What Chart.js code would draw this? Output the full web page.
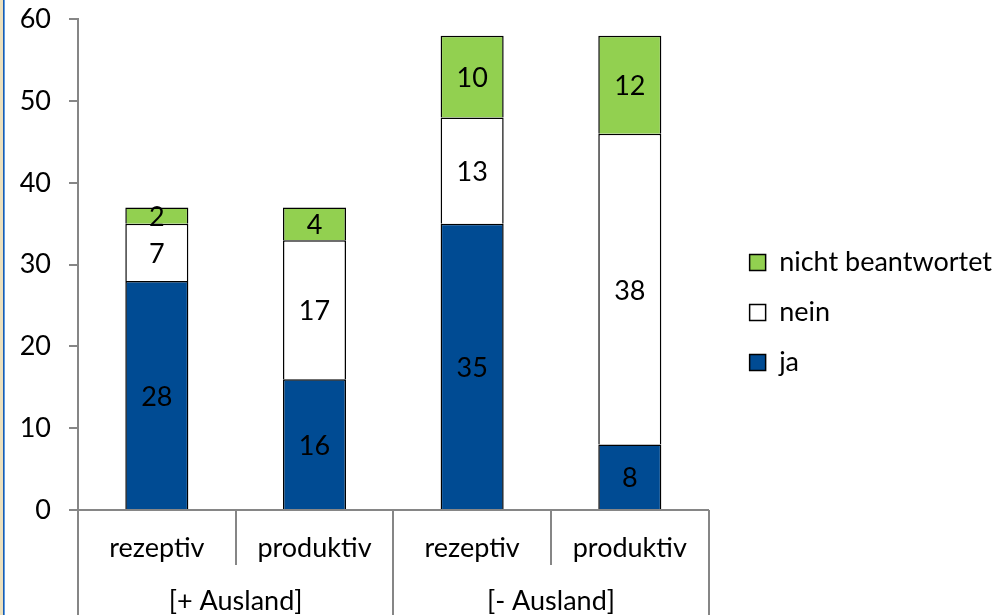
<!DOCTYPE html>
<html>
<head>
<meta charset="utf-8">
<script src="https://cdn.jsdelivr.net/npm/chart.js@4/dist/chart.umd.min.js"></script>
<style>
  html, body { margin: 0; padding: 0; background: #fff; }
  #wrap { position: relative; width: 1008px; height: 615px; overflow: hidden; }
  #edge { position: absolute; left: 0; top: 0; width: 5px; height: 615px;
          background: linear-gradient(to right, #ece0bd 0px, #ece0bd 3px, #1b5bb0 3px, #1b5bb0 4px, #5b9be0 4px, #5b9be0 5px); }
  canvas { position: absolute; left: 0; top: 0; }
</style>
</head>
<body>
<div id="wrap">
  <canvas id="c" width="1008" height="615"></canvas>
  <div id="edge"></div>
</div>
<script>
const categories = ['rezeptiv', 'produktiv', 'rezeptiv', 'produktiv'];
const groups = ['[+ Ausland]', '[- Ausland]'];
const ja = [28, 16, 35, 8];
const nein = [7, 17, 13, 38];
const nichtBeantwortet = [2, 4, 10, 12];
const yTicks = [0, 10, 20, 30, 40, 50, 60];

const FONT = 'Lato, "Liberation Sans", sans-serif';
const FSIZE = 27;
const AXIS = '#868686';

// value labels centred in each stacked segment
const segmentLabels = {
  id: 'segmentLabels',
  afterDatasetsDraw(chart) {
    const ctx = chart.ctx;
    ctx.save();
    ctx.font = FSIZE + 'px ' + FONT;
    ctx.fillStyle = '#000';
    ctx.textAlign = 'center';
    ctx.textBaseline = 'middle';
    chart.data.datasets.forEach((ds, di) => {
      const meta = chart.getDatasetMeta(di);
      meta.data.forEach((el, i) => {
        const y = (el.y + el.base) / 2;
        ctx.fillText(String(ds.data[i]), el.x, y + 2);
      });
    });
    ctx.restore();
  }
};

// two-level category axis with separator lines
const groupedAxis = {
  id: 'groupedAxis',
  afterDraw(chart) {
    const ctx = chart.ctx;
    const xs = chart.scales.x;
    const top = chart.chartArea.bottom;
    const bottom = chart.height;
    const n = categories.length;
    const step = xs.width / n;
    const perGroup = n / groups.length;
    ctx.save();
    ctx.strokeStyle = AXIS;
    ctx.lineWidth = 2;
    for (let i = 0; i <= n; i++) {
      const x = Math.round(xs.left + i * step);
      const long = i % perGroup === 0;
      ctx.beginPath();
      ctx.moveTo(x, top);
      ctx.lineTo(x, long ? bottom : top + 55);
      ctx.stroke();
    }
    ctx.font = FSIZE + 'px ' + FONT;
    ctx.fillStyle = '#000';
    ctx.textAlign = 'center';
    ctx.textBaseline = 'middle';
    categories.forEach((c, i) => {
      ctx.fillText(c, xs.getPixelForValue(i), top + 38);
    });
    groups.forEach((g, gi) => {
      const cx = xs.left + (gi * perGroup + perGroup / 2) * step;
      ctx.fillText(g, cx, top + 91);
    });
    ctx.restore();
  }
};

// nudge the legend block slightly downward
const legendOffset = {
  id: 'legendOffset',
  afterLayout(chart) {
    if (chart.legend) {
      chart.legend.top += 5;
      chart.legend.bottom += 5;
    }
  }
};

new Chart(document.getElementById('c'), {
  type: 'bar',
  data: {
    labels: categories,
    datasets: [
      { label: 'ja', data: ja, backgroundColor: '#004b93', borderColor: '#000', borderWidth: 1.5 },
      { label: 'nein', data: nein, backgroundColor: '#ffffff', borderColor: '#000', borderWidth: 1.5 },
      { label: 'nicht beantwortet', data: nichtBeantwortet, backgroundColor: '#92d050', borderColor: '#000', borderWidth: 1.5 }
    ]
  },
  options: {
    responsive: false,
    animation: false,
    devicePixelRatio: 1,
    layout: { padding: { top: 0, right: 6, left: 0, bottom: 0 } },
    datasets: { bar: { barPercentage: 0.4, categoryPercentage: 1.0 } },
    plugins: {
      legend: {
        position: 'right',
        reverse: true,
        maxWidth: 320,
        labels: {
          font: { size: FSIZE, family: FONT },
          color: '#000',
          boxWidth: 16,
          boxHeight: 16,
          padding: 23
        }
      },
      tooltip: { enabled: false }
    },
    scales: {
      x: {
        stacked: true,
        ticks: { display: false },
        grid: { display: false },
        border: { color: AXIS, width: 2 },
        afterFit(s) { s.height = 105; }
      },
      y: {
        stacked: true,
        min: 0,
        max: 60,
        afterBuildTicks(s) { s.ticks = yTicks.map(v => ({ value: v })); },
        ticks: { font: { size: FSIZE, family: FONT, lineHeight: 0.1 }, color: '#000', padding: 18 },
        grid: { drawOnChartArea: false, drawTicks: true, tickLength: 9, color: AXIS, lineWidth: 2 },
        border: { color: AXIS, width: 2 },
        afterFit(s) { s.width = 78; }
      },
      // empty strip between the plot and the legend
      gap: {
        type: 'linear',
        position: 'right',
        display: true,
        ticks: { display: false },
        grid: { display: false },
        border: { display: false },
        afterFit(s) { s.width = 18; }
      }
    }
  },
  plugins: [segmentLabels, groupedAxis, legendOffset]
});
</script>
</body>
</html>
